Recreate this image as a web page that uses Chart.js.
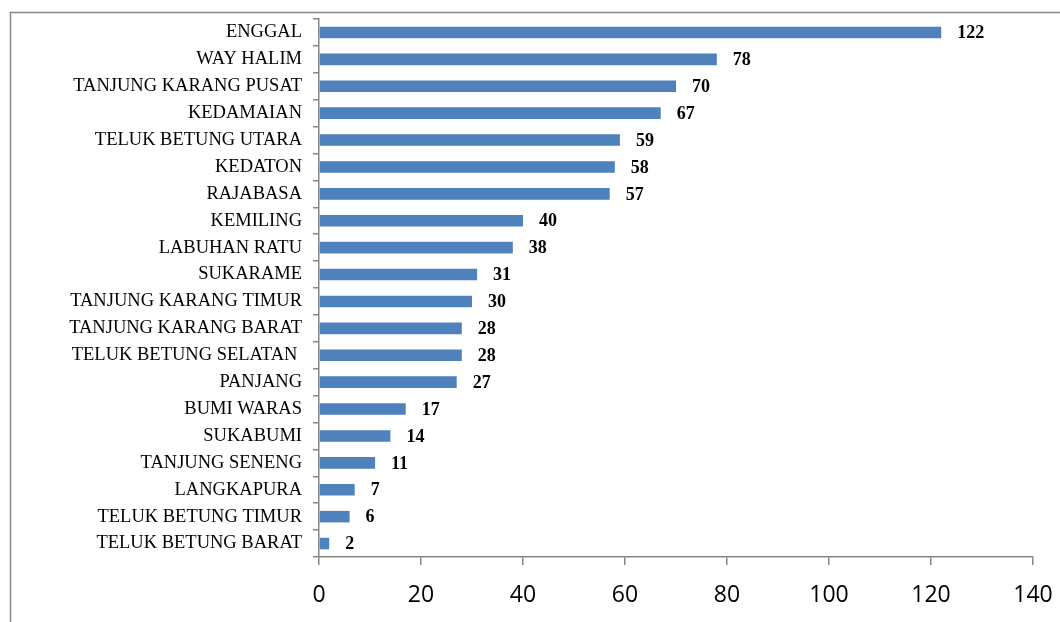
<!DOCTYPE html>
<html>
<head>
<meta charset="utf-8">
<title>Kecamatan</title>
<script src="https://cdn.jsdelivr.net/npm/chart.js@4.4.1/dist/chart.umd.min.js"></script>
<style>
    html, body { margin: 0; padding: 0; background: #ffffff; }
    #wrap { position: relative; width: 1060px; height: 622px; }
</style>
</head>
<body>
<div id="wrap"><canvas id="kecChart"></canvas></div>
<script>
// Data per kecamatan (top to bottom)
const kecamatan = [
    'ENGGAL', 'WAY HALIM', 'TANJUNG KARANG PUSAT', 'KEDAMAIAN', 'TELUK BETUNG UTARA',
    'KEDATON', 'RAJABASA', 'KEMILING', 'LABUHAN RATU', 'SUKARAME',
    'TANJUNG KARANG TIMUR', 'TANJUNG KARANG BARAT', 'TELUK BETUNG SELATAN ', 'PANJANG', 'BUMI WARAS',
    'SUKABUMI', 'TANJUNG SENENG', 'LANGKAPURA', 'TELUK BETUNG TIMUR', 'TELUK BETUNG BARAT'
];
const jumlah = [122, 78, 70, 67, 59, 58, 57, 40, 38, 31, 30, 28, 28, 27, 17, 14, 11, 7, 6, 2];
const xTicks = [0, 20, 40, 60, 80, 100, 120, 140];

const axisGray = '#868686';
const barBlue = '#4f81bd';

// Outer frame (left + top edges)
const framePlugin = {
    id: 'frame',
    beforeDraw(chart) {
        const ctx = chart.ctx;
        ctx.save();
        ctx.fillStyle = '#ffffff';
        ctx.fillRect(0, 0, chart.width, chart.height);
        ctx.strokeStyle = axisGray;
        ctx.lineWidth = 1.5;
        ctx.beginPath();
        ctx.moveTo(10.5, chart.height);
        ctx.lineTo(10.5, 12.5);
        ctx.lineTo(chart.width, 12.5);
        ctx.stroke();
        ctx.restore();
    }
};

// Value labels at the end of each bar
const valueLabels = {
    id: 'valueLabels',
    afterDatasetsDraw(chart) {
        const ctx = chart.ctx;
        const meta = chart.getDatasetMeta(0);
        ctx.save();
        ctx.font = 'bold 18px "Liberation Serif", "Times New Roman", serif';
        ctx.fillStyle = '#000000';
        ctx.textAlign = 'left';
        ctx.textBaseline = 'middle';
        meta.data.forEach((bar, i) => {
            ctx.fillText(String(jumlah[i]), bar.x + 16, bar.y + 1);
        });
        ctx.restore();
    }
};

// keep the layout padding as the only spacing around the plot
function noScalePadding(scale) {
    scale.paddingLeft = 0;
    scale.paddingRight = 0;
    scale.paddingTop = 0;
    scale.paddingBottom = 0;
}

const ctx = document.getElementById('kecChart').getContext('2d');
const kecChart = new Chart(ctx, {
    type: 'bar',
    data: {
        labels: kecamatan,
        datasets: [{
            data: jumlah,
            backgroundColor: barBlue,
            borderWidth: 0,
            categoryPercentage: 1.0,
            barPercentage: 0.43
        }]
    },
    options: {
        indexAxis: 'y',
        responsive: true,
        maintainAspectRatio: false,
        animation: false,
        layout: {
            padding: { left: 0, right: 27, top: 19, bottom: 0 }
        },
        plugins: {
            legend: { display: false },
            tooltip: { enabled: false }
        },
        scales: {
            x: {
                min: 0,
                max: 140,
                afterBuildTicks(scale) {
                    scale.ticks = xTicks.map(v => ({ value: v }));
                },
                afterFit(scale) {
                    scale.height = 65;
                    noScalePadding(scale);
                },
                grid: {
                    drawOnChartArea: false,
                    drawTicks: true,
                    tickLength: 8,
                    color: axisGray,
                    lineWidth: 1.5
                },
                border: { color: axisGray, width: 1.5 },
                ticks: {
                    color: '#000000',
                    padding: 17,
                    maxRotation: 0,
                    font: { family: '"Open Sans", sans-serif', size: 23 }
                }
            },
            y: {
                afterFit(scale) {
                    scale.width = 319;
                    noScalePadding(scale);
                },
                grid: {
                    offset: true,
                    drawOnChartArea: false,
                    drawTicks: true,
                    tickLength: 6,
                    color: axisGray,
                    lineWidth: 1.5
                },
                border: { color: axisGray, width: 1.5 },
                ticks: {
                    color: '#000000',
                    padding: 11,
                    autoSkip: false,
                    font: { family: '"Liberation Serif", "Times New Roman", serif', size: 18.5 }
                }
            }
        }
    },
    plugins: [framePlugin, valueLabels]
});
</script>
</body>
</html>
